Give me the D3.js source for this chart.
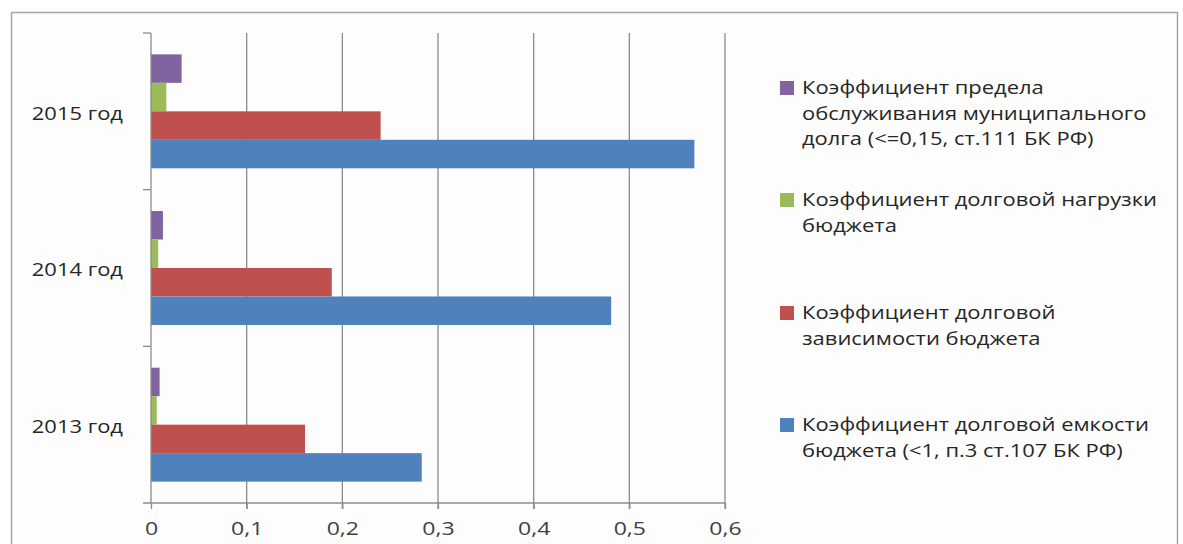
<!DOCTYPE html>
<html>
<head>
<meta charset="utf-8">
<script src="https://cdn.jsdelivr.net/npm/d3@7"></script>
<style>
  body { margin: 0; background: #fff; }
  text { font-family: "Open Sans", sans-serif; fill: #262626; }
</style>
</head>
<body>
<svg id="chart" width="1183" height="544"></svg>
<script>
// years, top to bottom like in the picture
var years = ["2015 год", "2014 год", "2013 год"];

// values per year (same order as years)
var emkost = [0.568, 0.481, 0.283];      // blue
var zavisimost = [0.240, 0.189, 0.161];  // red
var nagruzka = [0.016, 0.0075, 0.006];   // green
var obsluzh = [0.032, 0.0125, 0.009];    // purple

var ticks = [0, 0.1, 0.2, 0.3, 0.4, 0.5, 0.6];

var seriesNames = ["obsluzh", "nagruzka", "zavisimost", "emkost"];
var seriesValues = [obsluzh, nagruzka, zavisimost, emkost];
var legendLines = [
  ["Коэффициент предела", "обслуживания муниципального", "долга (<=0,15, ст.111 БК РФ)"],
  ["Коэффициент долговой нагрузки", "бюджета"],
  ["Коэффициент долговой", "зависимости бюджета"],
  ["Коэффициент долговой емкости", "бюджета (<1, п.3 ст.107 БК РФ)"]
];

function color(s){ return {emkost:"#4F81BD", zavisimost:"#C0504D", nagruzka:"#9BBB59", obsluzh:"#8064A2"}[s]; };

var svg = d3.select("#chart");

// outer frame
svg.append("rect")
    .attr("x", 11.5).attr("y", 12.5)
    .attr("width", 1166).attr("height", 540)
    .attr("fill", "#fdfdfd")
    .attr("stroke", "#a6a6a6")
    .attr("stroke-width", 1.5);

var x = d3.scaleLinear().domain([0, 0.6]).range([151, 725]);
var y = d3.scaleBand().domain(years).range([33, 503]);
var y1 = d3.scaleBand().domain(seriesNames).range([0, y.bandwidth()]).paddingInner(0).paddingOuter(0.75);

// gridlines
svg.append("g").selectAll("line")
    .data(ticks.slice(1))
    .enter().append("line")
      .attr("x1", function(d){ return x(d); })
      .attr("x2", function(d){ return x(d); })
      .attr("y1", 33).attr("y2", 509)
      .attr("stroke", "#8c8c8c")
      .attr("stroke-width", 1.3);

// bars
var rows = years.map(function(yr, i){
  return { year: yr, vals: seriesNames.map(function(s, j){ return { s: s, v: seriesValues[j][i] }; }) };
});

var grp = svg.append("g").selectAll("g")
    .data(rows)
    .enter().append("g")
      .attr("transform", function(d){ return "translate(0," + y(d.year) + ")"; });

grp.selectAll("rect")
    .data(function(d){ return d.vals; })
    .enter().append("rect")
      .attr("x", x(0))
      .attr("y", function(d){ return y1(d.s); })
      .attr("height", y1.bandwidth())
      .attr("width", function(d){ return x(d.v) - x(0); })
      .attr("fill", function(d){ return color(d.s); });

// x axis
var xAxis = svg.append("g")
    .attr("transform", "translate(0,503)")
    .call(d3.axisBottom(x).tickValues(ticks).tickSize(6)
      .tickFormat(function(d){ return d3.format("")(+d.toFixed(1)).replace(".", ","); }));
xAxis.select(".domain").attr("stroke", "#8c8c8c").attr("stroke-width", 1.3)
    .attr("d", "M143,0H" + x(0.6));
xAxis.selectAll(".tick line").attr("stroke", "#8c8c8c").attr("stroke-width", 1.3);
xAxis.selectAll(".tick text")
    .attr("y", 0)
    .attr("dy", "0.35em")
    .attr("transform", "translate(0,26) scale(1.28,1)")
    .style("font-family", "Open Sans, sans-serif")
    .style("font-size", "18px")
    .style("fill", "#404040");

// y axis (category boundaries)
var yAxis = svg.append("g").attr("transform", "translate(" + x(0) + ",0)");
yAxis.append("line")
    .attr("x1", 0).attr("x2", 0).attr("y1", 33).attr("y2", 503)
    .attr("stroke", "#8c8c8c").attr("stroke-width", 1.3);
yAxis.selectAll(".cat")
    .data(years)
    .enter().append("line")
      .attr("class", "cat")
      .attr("x1", -8).attr("x2", 0)
      .attr("y1", function(d){ return y(d); })
      .attr("y2", function(d){ return y(d); })
      .attr("stroke", "#8c8c8c").attr("stroke-width", 1.3);

svg.append("g").selectAll("text")
    .data(years)
    .enter().append("text")
      .attr("transform", function(d){ return "translate(123," + (y(d) + y.bandwidth() / 2 + 2) + ") scale(1.22,1)"; })
      .attr("dy", "0.35em")
      .attr("text-anchor", "end")
      .style("font-size", "18px")
      .text(function(d){ return d; });

// legend
var legendTop = [88, 200, 313, 425];
var lg = svg.append("g").selectAll("g")
    .data(seriesNames)
    .enter().append("g")
      .attr("transform", function(d, i){ return "translate(780," + legendTop[i] + ")"; });

lg.append("rect")
    .attr("x", 0).attr("y", -7)
    .attr("width", 14).attr("height", 14)
    .attr("fill", function(d){ return color(d); });

lg.each(function(d, i){
  var t = d3.select(this).append("text")
      .attr("transform", "translate(22,0) scale(1.22,1)")
      .style("font-size", "18px");
  legendLines[i].forEach(function(line, k){
    t.append("tspan").attr("x", 0).attr("y", k * 25.5).attr("dy", "0.35em").text(line);
  });
});
</script>
</body>
</html>
